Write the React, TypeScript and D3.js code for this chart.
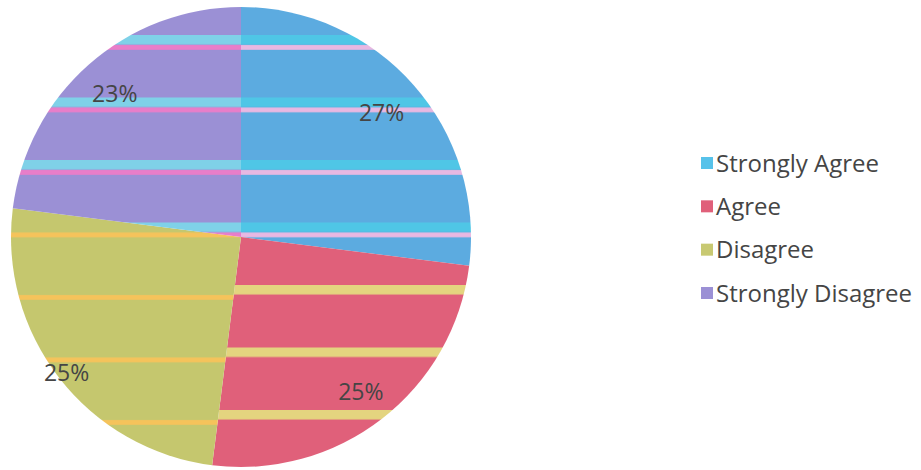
import React from 'react';
import * as d3 from 'd3';

const categories = ['Strongly Agree', 'Agree', 'Disagree', 'Strongly Disagree'];
const values = [27, 25, 25, 23];
const valueLabels = ['27%', '25%', '25%', '23%'];

const W = 921;
const H = 470;
const cx = 241;
const cy = 237;
const R = 230;

const baseColors = ['#5cabe0', '#e0607a', '#c5c76e', '#9b90d5'];
const bandAColors = ['#4fc6e6', '#e4d47f', '#c5c76e', '#7fd1e8'];
const bandBColors = ['#e8b8e2', '#e0607a', '#f5c35b', '#e87ec9'];
const legendColors = ['#57c2ea', '#e0607a', '#c8c972', '#9b90d5'];
const labelRadiusFactor = [0.815, 0.85, 0.96, 0.83];

const stripePeriod = 62.5;
const stripeStart = 35;

export default function App() {
  const pie = d3.pie<number>().sort(null).value((d) => d).startAngle(0).endAngle(2 * Math.PI);
  const arcs = pie(values);
  const arcGen = d3.arc<d3.PieArcDatum<number>>().innerRadius(0).outerRadius(R);
  const font = "'Open Sans', 'Noto Sans', sans-serif";
  const legendY = d3.scalePoint<string>().domain(categories).range([163, 293]);

  return (
    <svg
      width={W}
      height={H}
      style={{ position: 'absolute', left: 0, top: 0, background: '#fff' }}
    >
      <defs>
        {categories.map((c, i) => (
          <pattern
            key={c}
            id={`pat${i}`}
            patternUnits="userSpaceOnUse"
            x={0}
            y={stripeStart - cy}
            width={20}
            height={stripePeriod}
          >
            <rect x={0} y={0} width={20} height={stripePeriod} fill={baseColors[i]} />
            <rect x={0} y={0} width={20} height={9.5} fill={bandAColors[i]} />
            <rect x={0} y={10} width={20} height={4.8} fill={bandBColors[i]} />
          </pattern>
        ))}
      </defs>
      <g transform={`translate(${cx},${cy})`}>
        {arcs.map((a, i) => (
          <path key={categories[i]} d={arcGen(a) || ''} fill={`url(#pat${i})`} />
        ))}
        {arcs.map((a, i) => {
          const r = R * labelRadiusFactor[i];
          const lab = d3.arc<d3.PieArcDatum<number>>().innerRadius(r).outerRadius(r);
          const [x, y] = lab.centroid(a);
          return (
            <text
              key={'l' + i}
              x={x}
              y={y}
              dy="0.36em"
              textAnchor="middle"
              fontFamily={font}
              fontSize={23}
              fill="#454545"
            >
              {valueLabels[i]}
            </text>
          );
        })}
      </g>
      <g>
        {categories.map((c, i) => (
          <g key={c} transform={`translate(701,${legendY(c)})`}>
            <rect x={0} y={-6} width={12} height={12} fill={legendColors[i]} />
            <text
              x={15}
              y={0}
              dy="0.36em"
              fontFamily={font}
              fontSize={24}
              fill="#454545"
            >
              {c}
            </text>
          </g>
        ))}
      </g>
    </svg>
  );
}
